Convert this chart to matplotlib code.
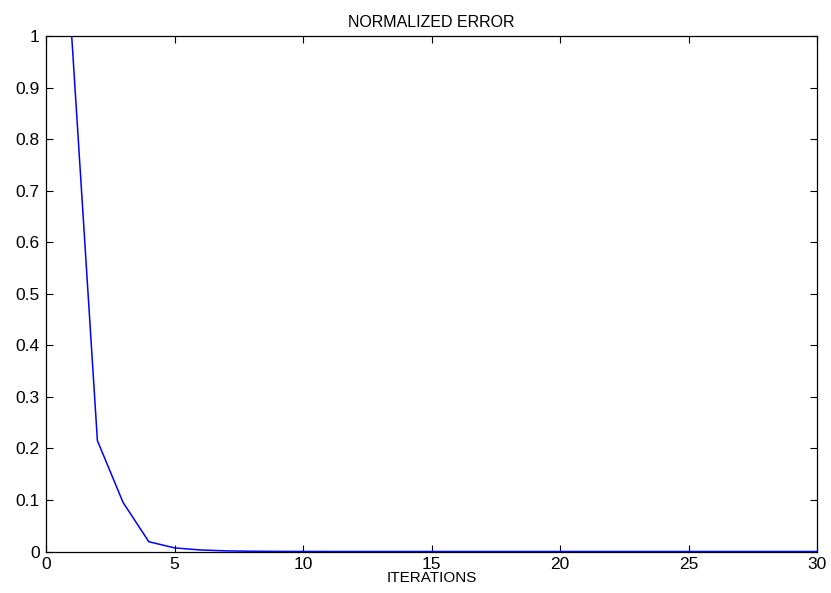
import matplotlib
matplotlib.use("Agg")
import matplotlib.pyplot as plt

plt.rcParams['font.family'] = ['Liberation Sans', 'DejaVu Sans']

iterations = list(range(1, 31))
error = [1.0, 0.215, 0.095, 0.019, 0.007, 0.003, 0.0012, 0.0005, 0.0002, 0.0001] + [0.0] * 20

xticks = [0, 5, 10, 15, 20, 25, 30]
yticks = [0, 0.1, 0.2, 0.3, 0.4, 0.5, 0.6, 0.7, 0.8, 0.9, 1]
ytick_labels = ['0', '0.1', '0.2', '0.3', '0.4', '0.5', '0.6', '0.7', '0.8', '0.9', '1']

fig = plt.figure(figsize=(8.31, 5.93), dpi=100)
ax = fig.add_axes([46/831, 1 - 551.5/593, (817-46)/831, (551.5-36)/593])
ax.plot(iterations, error, color='#0000ff', linewidth=1.1, zorder=3)
ax.set_xlim(0, 30)
ax.set_ylim(0, 1)
ax.set_xticks(xticks)
ax.set_xticklabels([str(t) for t in xticks])
ax.set_yticks(yticks)
ax.set_yticklabels(ytick_labels)
ax.tick_params(direction='in', length=5, width=0.8, top=True, right=True, labelsize=12.5)
ax.tick_params(axis='y', pad=4.5)
ax.tick_params(axis='x', pad=4)
for s in ax.spines.values():
    s.set_linewidth(0.9)
ax.set_title('NORMALIZED ERROR', fontsize=11.5, pad=6.5)
ax.set_xlabel('ITERATIONS', fontsize=11, labelpad=-1)
fig.savefig('out.png', dpi=100)
